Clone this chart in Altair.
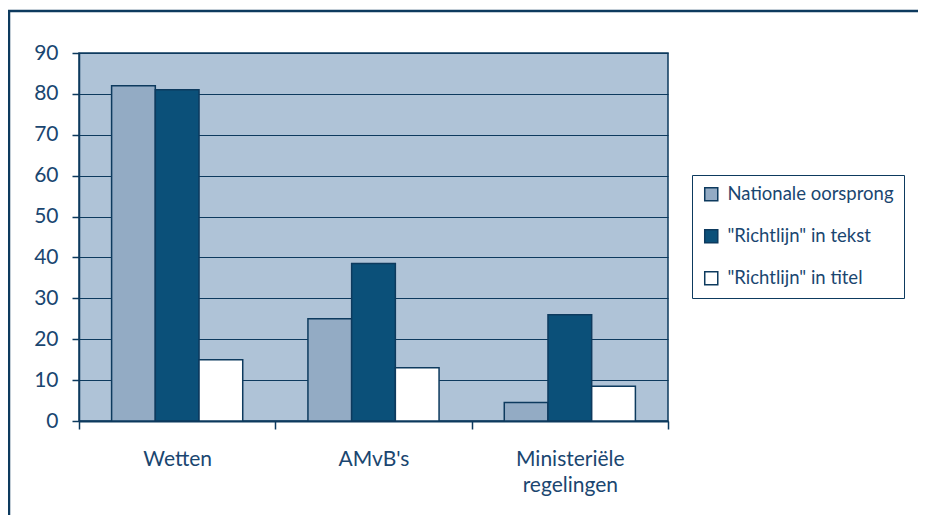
import altair as alt
import pandas as pd

categories = ["Wetten", "AMvB's", "Ministeriële regelingen"]
series = ["Nationale oorsprong", "\"Richtlijn\" in tekst", "\"Richtlijn\" in titel"]
nationale = [82, 25, 4.5]
tekst = [81, 38.5, 26]
titel = [15, 13, 8.5]
colors = ["#93abc4", "#0b5079", "#ffffff"]

rows = []
for i, c in enumerate(categories):
    for s, vals in zip(series, [nationale, tekst, titel]):
        rows.append({"cat": c, "serie": s, "waarde": vals[i]})
df = pd.DataFrame(rows)

NAVY = "#0d3a5e"
TEXT = "#1a4670"
FONT = "Lato"

W, H = 589, 368

bars = alt.Chart(df).mark_bar(stroke=NAVY, strokeWidth=1.5).encode(
    x=alt.X("cat:N", sort=categories, title=None,
            scale=alt.Scale(paddingInner=0, paddingOuter=0),
            axis=alt.Axis(labelAngle=0, tickBand="extent", tickSize=8,
                          labelPadding=19, labelFontSize=21, labelLineHeight=26,
                          labelExpr="split(datum.label, ' ')",
                          domainColor=NAVY, domainWidth=2, tickColor=NAVY, tickWidth=1.5,
                          labelColor=TEXT, labelFont=FONT)),
    xOffset=alt.XOffset("serie:N", sort=series,
                        scale=alt.Scale(paddingInner=0, paddingOuter=0.746)),
    y=alt.Y("waarde:Q", title=None,
            scale=alt.Scale(domain=[0, 90], nice=False),
            axis=alt.Axis(values=list(range(0, 91, 10)), tickSize=7, labelPadding=14,
                          labelFontSize=21, labelColor=TEXT, labelFont=FONT,
                          grid=True, gridColor=NAVY, gridWidth=1.2, gridOpacity=1,
                          domainColor=NAVY, domainWidth=1.5, tickColor=NAVY, tickWidth=1.5)),
    color=alt.Color("serie:N", sort=series, title=None,
                    scale=alt.Scale(domain=series, range=colors),
                    legend=alt.Legend(orient="none", legendX=613, legendY=122,
                                      symbolType="square", symbolSize=170,
                                      symbolStrokeColor=NAVY, symbolStrokeWidth=1.5,
                                      labelFontSize=18.5, labelColor=TEXT, labelFont=FONT,
                                      labelOffset=7, rowPadding=22, padding=10,
                                      fillColor="#ffffff", strokeColor=NAVY,
                                      labelLimit=300)),
)

one = pd.DataFrame({"a": [0]})
top_line = alt.Chart(one).mark_rule(stroke=NAVY, strokeWidth=2.5).encode(
    x=alt.value(-71), x2=alt.value(W + 400), y=alt.value(-42)
)
left_line = alt.Chart(one).mark_rule(stroke=NAVY, strokeWidth=2.5).encode(
    x=alt.value(-70), y=alt.value(-43), y2=alt.value(H + 300)
)

chart = alt.layer(bars, top_line, left_line).properties(
    width=W, height=H,
    autosize=alt.AutoSizeParams(type="none"),
    padding={"left": 71, "top": 45, "right": 250, "bottom": 94},
    background="#ffffff",
).configure_view(
    fill="#afc3d7", stroke=NAVY, strokeWidth=1.5
)

chart.save("out.html", embed_options={"renderer": "svg", "actions": False})
